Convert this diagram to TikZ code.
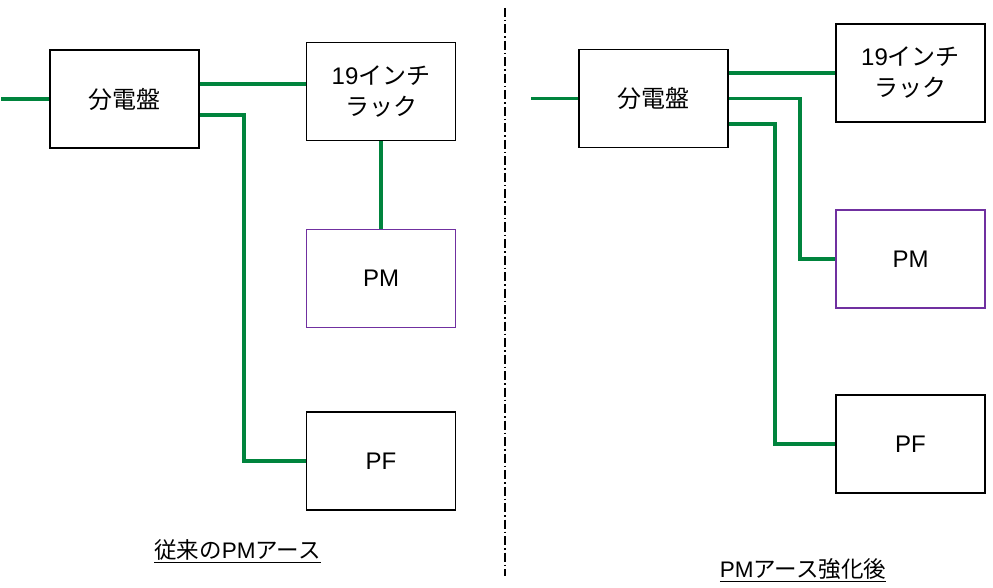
\documentclass[tikz,border=0pt]{standalone}
\usepackage{fontspec}
\setmainfont{Liberation Sans}
\newfontfamily\jp{Noto Sans CJK JP}
\usepackage{tikz}
\definecolor{wire}{RGB}{0,132,61}
\definecolor{pmviolet}{RGB}{112,48,160}
\tikzset{unit/.style = {draw, rectangle, line width=1.8pt, minimum width=149pt, minimum height=98pt, font=\fontsize{24}{31}\selectfont, align=center, inner sep=0pt}}
\tikzset{pmunit/.style = {unit, draw=pmviolet}}
\tikzset{wire/.style = {draw=wire, line width=3.2pt}}
\tikzset{caption/.style = {font=\fontsize{22.5}{26}\selectfont, anchor=south, inner sep=0pt}}

\begin{document}
\begin{tikzpicture}[x=1pt, y=-1pt]
  \useasboundingbox (0,0) rectangle (993,588);

  % before
  \node [unit] (boardL) at (124.5,99) {\jp 分電盤};
  \node [unit] (rackL) at (381,91.5) {19{\jp インチ}\\{\jp ラック}};
  \node [pmunit] (pmL) at (381,278.5) {PM};
  \node [unit] (pfL) at (381,461) {PF};
  \coordinate (feedL) at (1,99);
  \coordinate (outL) at ([yshift=15pt]boardL.east);
  \coordinate (downL) at ([yshift=-16pt]boardL.east);

  \path[wire] (feedL) -- (boardL.west);
  \path[wire] (outL) -- (outL -| rackL.west);
  \path[wire] (rackL.south) -- (pmL.north);
  \path[wire] (downL) -- ++(44,0) |- (pfL.west);

  \node [caption] (capL) at (237.5,563) {\underline{{\jp 従来の}PM{\jp アース}}};

  % divider
  \coordinate (divtop) at (505,8);
  \coordinate (divbot) at (505,576);
  \draw[line width=1.2pt, dash pattern=on 9pt off 3pt on 1.5pt off 3pt] (divtop) -- (divbot);

  % after
  \node [unit] (boardR) at (653.5,98.5) {\jp 分電盤};
  \node [unit] (rackR) at (910.5,73) {19{\jp インチ}\\{\jp ラック}};
  \node [pmunit] (pmR) at (910.5,259) {PM};
  \node [unit] (pfR) at (910.5,444) {PF};
  \coordinate (feedR) at (531,98.5);
  \coordinate (lowR) at ([yshift=-25.5pt]boardR.east);

  \path[wire] (feedR) -- (boardR.west);
  \path[wire] (rackR.west -| boardR.east) -- (rackR.west);
  \path[wire] (boardR.east) -- ++(71,0) |- (pmR.west);
  \path[wire] (lowR) -- ++(46,0) |- (pfR.west);

  \node [caption] (capR) at (803,582) {\underline{PM{\jp アース強化後}}};
\end{tikzpicture}
\end{document}
